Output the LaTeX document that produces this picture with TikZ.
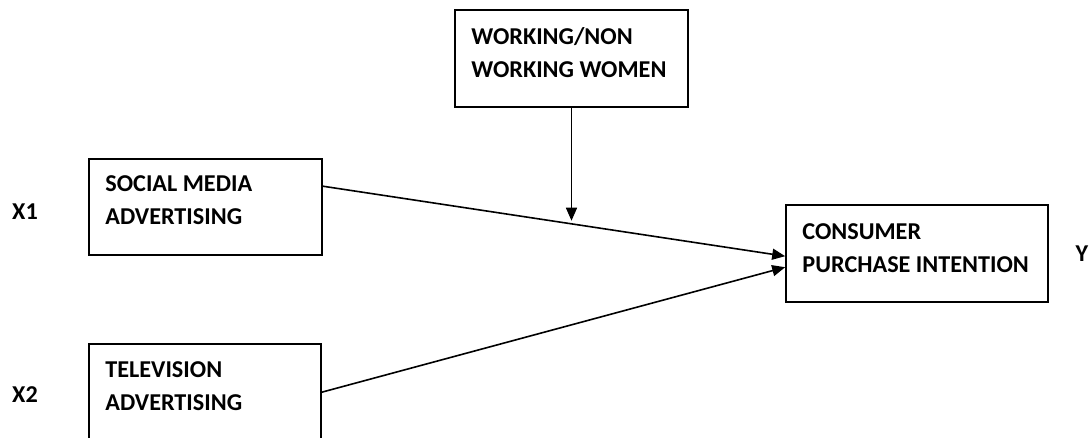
\documentclass[tikz,border=0pt]{standalone}
\usepackage{fontspec}
\setmainfont{Carlito}
\usetikzlibrary{arrows.meta}
\begin{document}
\begin{tikzpicture}[x=1pt,y=-1pt,>={Triangle[length=13pt,width=11pt]},
  boks/.style={draw,line width=1.6pt,inner sep=0pt},
  tekst/.style={anchor=north west,align=left,inner sep=0pt,
    font=\fontsize{24.2}{33}\selectfont\bfseries},
  pil/.style={->,line width=1.6pt}]
  \useasboundingbox (0,0) rectangle (1090,438);

  % Bokser
  \node[boks,minimum width=233pt,minimum height=97pt] (wk) at (571.5,58.5) {};
  \node[boks,minimum width=233pt,minimum height=96pt] (sm) at (205.5,207) {};
  \node[boks,minimum width=232pt,minimum height=110pt] (tv) at (205,399) {};
  \node[boks,minimum width=262pt,minimum height=97pt] (cp) at (917,253.5) {};

  % Tekst
  \node[tekst] (wktxt) at ([xshift=17pt,yshift=-18pt]wk.north west) {WORKING/NON\\WORKING WOMEN};
  \node[tekst] (smtxt) at ([xshift=17pt,yshift=-17.5pt]sm.north west) {SOCIAL MEDIA\\ADVERTISING};
  \node[tekst] (tvtxt) at ([xshift=17pt,yshift=-18pt]tv.north west) {TELEVISION\\ADVERTISING};
  \node[tekst] (cptxt) at ([xshift=17pt,yshift=-19.5pt]cp.north west) {CONSUMER\\PURCHASE INTENTION};

  % Variabler
  \node[tekst,anchor=center] (x1) at (25,211.5) {X1};
  \node[tekst,anchor=center] (x2) at (25,395) {X2};
  \node[tekst,anchor=center] (y) at (1082,253.5) {Y};

  % Piler
  \draw[pil] ([yshift=-28pt]sm.north east) -- coordinate[pos=0.536] (mod) ([yshift=-52pt]cp.north west);
  \draw[pil] ([yshift=-49pt]tv.north east) -- ([yshift=-63pt]cp.north west);
  \draw[pil] (wk.south) -- ([yshift=3pt]wk.south |- mod);
\end{tikzpicture}
\end{document}
